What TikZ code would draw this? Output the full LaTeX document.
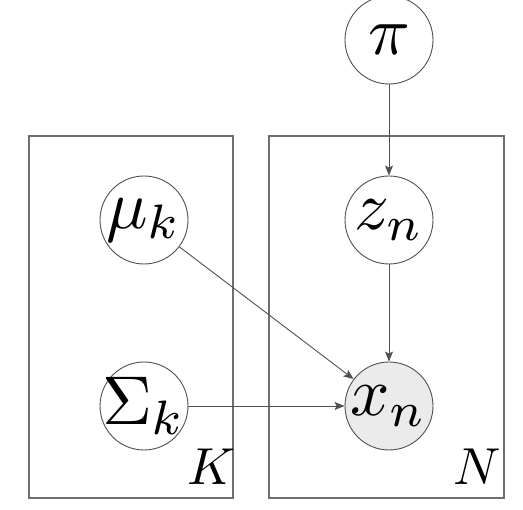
\documentclass[tikz,border=0pt]{standalone}
\usepackage{graphicx}
\usetikzlibrary{arrows.meta}
\definecolor{lineg}{RGB}{80,80,80}
\definecolor{plateg}{RGB}{110,110,110}
\definecolor{obsfill}{RGB}{235,235,235}
\newcommand{\varlbl}[1]{\scalebox{6.9}{$#1$}}
\newcommand{\platelbl}[1]{\scalebox{5.2}{$#1$}}
\tikzset{
  var/.style={circle, draw=lineg, line width=0.9pt, minimum size=88pt, inner sep=-40pt},
  obs/.style={var, fill=obsfill},
  plate/.style={draw=plateg, line width=1.2pt},
  platelabel/.style={inner sep=0pt},
  edge/.style={draw=lineg, line width=0.9pt, -{Stealth[length=10pt,width=8pt,inset=2pt]}}
}
\begin{document}
\begin{tikzpicture}[x=1pt,y=-1pt]
\useasboundingbox (0,0) rectangle (523,510);
\draw[plate] (29,136) rectangle (233,498);
\draw[plate] (269,136) rectangle (504,498);
\node[platelabel] (K) at (211,467) {\platelbl{K}};
\node[platelabel] (N) at (477,467) {\platelbl{N}};
\node[var] (pi) at (389,40) {\varlbl{\pi}};
\node[var] (mu) at (144,220) {\varlbl{\mu_k}};
\node[var] (z) at (389,220) {\varlbl{z_n}};
\node[var] (sig) at (144,406) {\varlbl{\Sigma_k}};
\node[obs] (x) at (389,406) {\varlbl{x_n}};
\draw[edge] (pi) -- (z);
\draw[edge] (z) -- (x);
\draw[edge] (mu) -- (x);
\draw[edge] (sig) -- (x);
\end{tikzpicture}
\end{document}
